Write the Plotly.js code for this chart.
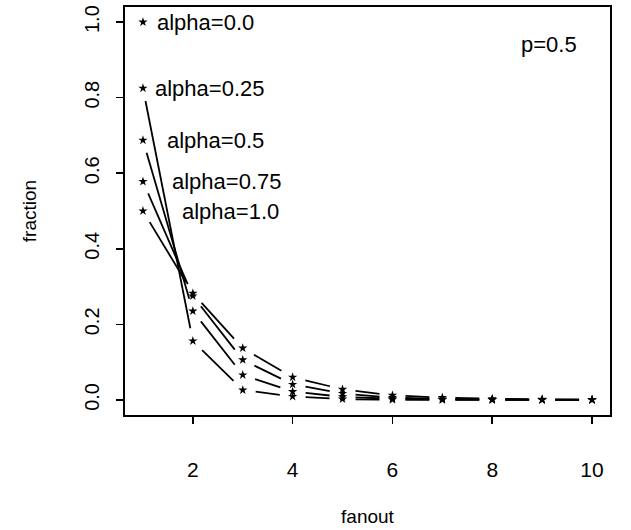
<!DOCTYPE html>
<html>
<head>
<meta charset="utf-8">
<script src="https://cdn.plot.ly/plotly-3.0.1.min.js"></script>
<style>
  html, body { margin: 0; padding: 0; background: #fff; }
  #chart { width: 631px; height: 530px; }
</style>
</head>
<body>
<div id="chart"></div>
<script>
// ---- data ----
const fanout = [1, 2, 3, 4, 5, 6, 7, 8, 9, 10];
const fanoutAlpha000 = [1];
const fracAlpha000 = [1.0];
const fracAlpha025 = [0.825, 0.156, 0.026, 0.009, 0.002, 0.0005, 0.0002, 0.0001, 0.0, 0.0];
const fracAlpha050 = [0.6875, 0.235, 0.066, 0.022, 0.008, 0.003, 0.001, 0.0005, 0.0002, 0.0001];
const fracAlpha075 = [0.578, 0.275, 0.106, 0.041, 0.017, 0.006, 0.0025, 0.001, 0.0005, 0.0002];
const fracAlpha100 = [0.5, 0.282, 0.137, 0.060, 0.028, 0.012, 0.006, 0.003, 0.0015, 0.0008];
const seriesNames = ['alpha=0.0', 'alpha=0.25', 'alpha=0.5', 'alpha=0.75', 'alpha=1.0'];
const labelX = [1.24, 1.2, 1.44, 1.54, 1.74];
const xTicks = [2, 4, 6, 8, 10];
const yTicks = [0.0, 0.2, 0.4, 0.6, 0.8, 1.0];
const yTickText = ['0.0', '0.2', '0.4', '0.6', '0.8', '1.0'];
const noteText = 'p=0.5';

const series = [
  {x: fanoutAlpha000, y: fracAlpha000},
  {x: fanout, y: fracAlpha025},
  {x: fanout, y: fracAlpha050},
  {x: fanout, y: fracAlpha075},
  {x: fanout, y: fracAlpha100}
];

const FONT = 'Liberation Sans, Arial, Helvetica, sans-serif';
const GAP = 13; // px gap between a point and its connecting line (R type "b")

const markerTraces = series.map((s, i) => ({
  type: 'scatter', mode: 'markers', x: s.x, y: s.y, name: seriesNames[i],
  marker: {symbol: 'star', size: 7, color: '#000', line: {width: 0}},
  hoverinfo: 'x+y', cliponaxis: false
}));

const annotations = series.map((s, i) => ({
  x: labelX[i], y: s.y[0], xref: 'x', yref: 'y', text: seriesNames[i],
  showarrow: false, xanchor: 'left', yanchor: 'middle',
  font: {family: FONT, size: 22, color: '#000'}
}));
annotations.push({
  x: 9.14, y: 0.94, xref: 'x', yref: 'y', text: noteText, showarrow: false,
  xanchor: 'center', yanchor: 'middle', font: {family: FONT, size: 22, color: '#000'}
});

const layout = {
  width: 631, height: 530,
  margin: {l: 125, r: 21, t: 7, b: 115},
  paper_bgcolor: '#fff', plot_bgcolor: '#fff',
  showlegend: false,
  font: {family: FONT, size: 20, color: '#000'},
  xaxis: {
    range: [0.64, 10.36], tickvals: xTicks, ticks: 'outside', ticklen: 7, tickwidth: 1.6,
    tickcolor: '#000', showline: true, mirror: true, linecolor: '#000', linewidth: 1.8,
    showgrid: false, zeroline: false, ticklabelstandoff: 28,
    tickfont: {family: FONT, size: 21, color: '#000'},
    title: {text: 'fanout', standoff: 30, font: {family: FONT, size: 19, color: '#000'}},
    automargin: false
  },
  yaxis: {
    range: [-0.04, 1.04], tickvals: yTicks, ticktext: yTickText, ticks: 'outside', ticklen: 7,
    tickwidth: 1.6, tickcolor: '#000', tickangle: -90,
    showline: true, mirror: true, linecolor: '#000', linewidth: 1.8,
    showgrid: false, zeroline: false, ticklabelstandoff: 9,
    tickfont: {family: FONT, size: 20, color: '#000'},
    title: {text: 'fraction', standoff: 39, font: {family: FONT, size: 19, color: '#000'}},
    automargin: false
  },
  annotations: annotations
};

const gd = document.getElementById('chart');
Plotly.newPlot(gd, markerTraces, layout, {displayModeBar: false, staticPlot: true}).then(() => {
  const xa = gd._fullLayout.xaxis, ya = gd._fullLayout.yaxis;
  const lineTraces = series.map(s => {
    const lx = [], ly = [];
    for (let i = 0; i < s.x.length - 1; i++) {
      const x0 = xa.c2p(s.x[i]), y0 = ya.c2p(s.y[i]);
      const x1 = xa.c2p(s.x[i + 1]), y1 = ya.c2p(s.y[i + 1]);
      const dx = x1 - x0, dy = y1 - y0, d = Math.hypot(dx, dy);
      if (d <= 2 * GAP) continue;
      const f = GAP / d;
      lx.push(xa.p2c(x0 + dx * f), xa.p2c(x1 - dx * f), null);
      ly.push(ya.p2c(y0 + dy * f), ya.p2c(y1 - dy * f), null);
    }
    return {
      type: 'scatter', mode: 'lines', x: lx, y: ly, connectgaps: false,
      line: {color: '#000', width: 1.8}, hoverinfo: 'skip'
    };
  });
  return Plotly.addTraces(gd, lineTraces, lineTraces.map((_, i) => i));
});
</script>
</body>
</html>
